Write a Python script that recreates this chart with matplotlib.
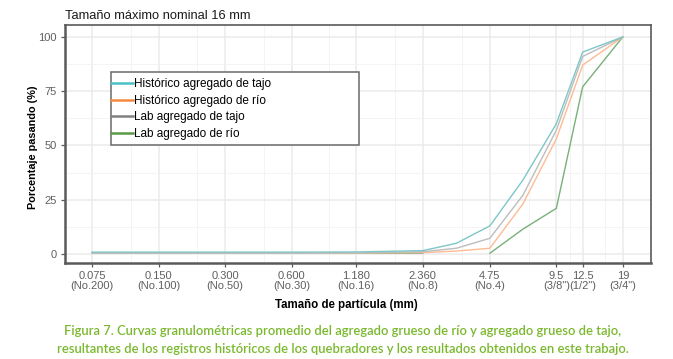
import numpy as np
import matplotlib.pyplot as plt
from matplotlib.lines import Line2D
from matplotlib.patches import Rectangle

# sieve openings (mm) where the curves were read
sizes = [0.075, 0.150, 0.300, 0.600, 1.180, 2.360, 3.35, 4.75, 6.7, 9.5, 12.5, 19.0]

hist_tajo = [0.8, 0.8, 0.8, 0.8, 0.9, 1.5, 4.9, 12.9, 34.0, 60.0, 93.0, 100.0]
hist_rio = [0.3, 0.3, 0.3, 0.3, 0.4, 0.6, 1.3, 2.6, 23.0, 53.0, 87.0, 100.0]
lab_tajo = [0.3, 0.3, 0.3, 0.3, 0.4, 1.0, 2.6, 7.2, 27.0, 57.0, 91.0, 100.0]
lab_rio = [0.3, 0.3, 0.3, 0.3, 0.3, 0.3, np.nan, 0.3, 11.4, 21.0, 77.0, 100.0]

tick_sizes = [0.075, 0.150, 0.300, 0.600, 1.180, 2.360, 4.75, 9.5, 12.5, 19.0]
tick_labels = ["0.075\n(No.200)", "0.150\n(No.100)", "0.300\n(No.50)", "0.600\n(No.30)",
               "1.180\n(No.16)", "2.360\n(No.8)", "4.75\n(No.4)", "9.5\n(3/8\")",
               "12.5\n(1/2\")", "19\n(3/4\")"]

labels = ["Histórico agregado de tajo", "Histórico agregado de río",
          "Lab agregado de tajo", "Lab agregado de río"]
series = [hist_tajo, hist_rio, lab_tajo, lab_rio]
line_colors = ["#7fc6c8", "#fdbb94", "#bdbdbd", "#78b07a"]
key_colors = ["#4dbfc6", "#f5893f", "#808080", "#5a9a45"]

plt.rcParams["font.family"] = ["Liberation Sans", "DejaVu Sans"]

fig = plt.figure(figsize=(6.73, 3.59), dpi=100)
ax = fig.add_axes([65 / 673, 1 - 263 / 359, 586 / 673, 238 / 359])

# draw order: green at bottom, teal on top
for i in [3, 1, 2, 0]:
    ax.plot(sizes, series[i], color=line_colors[i], lw=1.0, zorder=3)

ax.set_xscale("log")
ax.set_xlim(0.0565, 25.5)
ax.set_ylim(-4.2, 105.5)
ax.set_xticks(tick_sizes)
ax.set_xticklabels(tick_labels, linespacing=0.95)
ax.set_yticks([0, 25, 50, 75, 100])
ax.minorticks_off()

# grid: majors + arithmetic midpoints between breaks (as in ggplot)
for x in tick_sizes:
    ax.axvline(x, color="#ebebeb", lw=1.1, zorder=0)
for a, b in zip(tick_sizes[:-1], tick_sizes[1:]):
    ax.axvline((a + b) / 2, color="#f2f2f2", lw=0.6, zorder=0)
for y in [0, 25, 50, 75, 100]:
    ax.axhline(y, color="#ebebeb", lw=1.1, zorder=0)
for y in [12.5, 37.5, 62.5, 87.5]:
    ax.axhline(y, color="#f2f2f2", lw=0.6, zorder=0)

for s in ax.spines.values():
    s.set_color("#5a5a5a")
    s.set_linewidth(1.2)
ax.spines["left"].set_linewidth(1.8)
ax.spines["bottom"].set_linewidth(1.8)

ax.tick_params(axis="both", length=3, width=0.9, color="#5a5a5a",
               labelcolor="#5f5f5f", labelsize=8, pad=3)

ax.set_xlabel("Tamaño de partícula (mm)", fontsize=8.3, fontweight="bold", labelpad=6)
ax.xaxis.label.set_x(0.48)
ax.set_ylabel("Porcentaje pasando (%)", fontsize=7.8, fontweight="bold", labelpad=0)
ax.yaxis.label.set_y(0.485)

# legend box
ax.add_patch(Rectangle((46 / 586, 1 - 120 / 238), 248 / 586, 73 / 238,
                       transform=ax.transAxes, facecolor="white",
                       edgecolor="#6a6a6a", lw=1.1, zorder=5))
handles = [Line2D([], [], color=c, lw=1.8) for c in key_colors]
leg = ax.legend(handles, labels, loc="upper left", frameon=False,
                bbox_to_anchor=(46 / 586, 1 - 53 / 238), borderaxespad=0,
                fontsize=8.5, handlelength=1.9, handletextpad=0.05,
                labelspacing=0.40, borderpad=0)
leg.set_zorder(6)

fig.text(65 / 673, 1 - 16 / 359, "Tamaño máximo nominal 16 mm", fontsize=9.3,
         va="center", ha="left", color="#1a1a1a")

cap_kw = dict(fontsize=9.4, color="#7ab82e", ha="center", va="center",
              family=["Lato", "DejaVu Sans"], fontweight="semibold")
fig.text(343 / 673, 1 - 331 / 359,
         "Figura 7. Curvas granulométricas promedio del agregado grueso de río y agregado grueso de tajo,",
         **cap_kw)
fig.text(343 / 673, 1 - 349 / 359,
         "resultantes de los registros históricos de los quebradores y los resultados obtenidos en este trabajo.",
         **cap_kw)

fig.savefig("out.png", dpi=100)
